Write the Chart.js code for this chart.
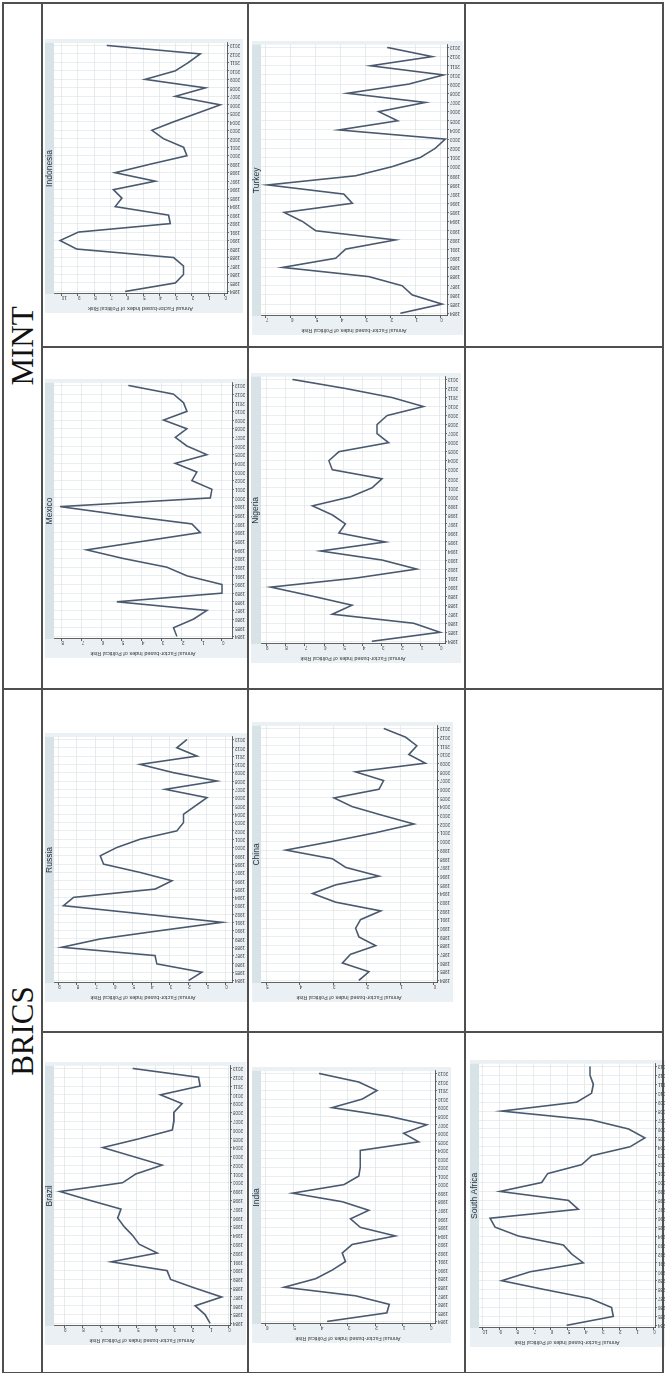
<!DOCTYPE html>
<html>
<head>
<meta charset="utf-8">
<script src="https://cdn.jsdelivr.net/npm/chart.js@4.4.1/dist/chart.umd.min.js"></script>
<style>
  html, body { margin: 0; padding: 0; background: #ffffff; }
  body { width: 665px; height: 1375px; overflow: hidden; position: relative; }
  /* the table is laid out landscape, then turned a quarter turn counter-clockwise */
  #page {
    position: absolute; left: 0; top: 0;
    width: 1375px; height: 665px;
    transform-origin: 0 0;
    transform: translateY(1375px) rotate(-90deg);
    background: #ffffff;
  }
  .rule { position: absolute; background: #4f4f4f; z-index: 2; }
  .group {
    position: absolute; top: 3px; height: 39px;
    display: flex; align-items: center; justify-content: center;
    font-family: "Liberation Serif", "Times New Roman", serif;
    font-size: 31px; color: #111111;
  }
  canvas { position: absolute; z-index: 1; }
</style>
</head>
<body>
<div id="page"></div>
<script>
// Years on the horizontal axis of every panel
const years = [1984, 1985, 1986, 1987, 1988, 1989, 1990, 1991, 1992, 1993,
               1994, 1995, 1996, 1997, 1998, 1999, 2000, 2001, 2002, 2003,
               2004, 2005, 2006, 2007, 2008, 2009, 2010, 2011, 2012, 2013];

// Annual factor-based index of political risk, one series per country
const brazil      = [0.99, 1.27, 1.81, 0.36, 1.81, 3.16, 3.35, 6.42, 3.89, 4.88, 5.24, 5.70, 6.06, 5.88, 7.59, 9.22, 5.79, 5.06, 3.62, 5.24, 6.87, 4.88, 3.07, 2.98, 2.98, 2.53, 3.71, 1.54, 1.63, 5.24];
const india       = [3.76, 1.58, 1.49, 2.73, 5.33, 4.18, 3.58, 3.09, 3.21, 2.85, 1.27, 2.55, 2.91, 2.24, 3.21, 5.03, 3.15, 2.61, 2.55, 2.55, 2.55, 0.42, 0.97, 0.12, 1.52, 3.58, 2.48, 1.94, 2.61, 4.06];
const southAfrica = [5.07, 2.34, 2.44, 3.70, 6.34, 8.87, 7.21, 4.09, 4.78, 5.26, 7.89, 9.26, 9.55, 4.39, 4.97, 8.97, 6.53, 6.18, 4.19, 3.61, 1.36, 0.49, 1.46, 3.61, 8.87, 4.48, 3.61, 3.51, 3.70, 3.70];
const russia      = [1.98, 1.26, 3.69, 3.78, 8.81, 6.74, 3.51, 0.18, 4.41, 8.72, 8.18, 3.78, 2.88, 4.59, 6.56, 6.74, 5.85, 4.59, 2.61, 2.25, 2.25, 1.62, 0.99, 3.24, 0.45, 2.79, 4.59, 1.53, 2.61, 2.07];
const china       = [2.23, 1.93, 2.72, 2.48, 1.73, 2.23, 2.33, 2.18, 1.58, 2.92, 3.61, 2.92, 1.63, 2.62, 3.02, 4.41, 3.02, 1.73, 0.59, 1.53, 2.43, 2.97, 1.63, 1.49, 2.33, 0.25, 0.74, 0.50, 0.84, 1.49];
const mexico      = [2.25, 2.42, 1.42, 0.75, 5.25, 0.00, 0.00, 1.75, 2.75, 4.92, 6.75, 3.92, 1.08, 1.50, 4.92, 8.08, 0.58, 0.50, 1.50, 1.25, 2.33, 0.75, 1.75, 2.33, 1.75, 2.92, 1.75, 1.92, 2.42, 4.67];
const nigeria     = [3.52, 0.00, 1.37, 5.57, 4.55, 6.60, 8.75, 4.37, 1.20, 3.00, 6.17, 2.83, 5.23, 4.89, 5.57, 6.60, 4.63, 3.52, 3.00, 5.57, 5.75, 5.23, 2.66, 3.26, 3.26, 2.74, 0.86, 2.49, 4.89, 7.63];
const indonesia   = [6.10, 3.02, 2.51, 2.51, 3.12, 9.08, 10.10, 8.97, 3.33, 3.43, 6.71, 6.30, 6.82, 4.25, 6.71, 4.56, 2.30, 2.51, 3.74, 4.46, 3.12, 1.68, 0.25, 3.02, 1.17, 4.87, 3.02, 2.20, 1.48, 7.23];
const turkey      = [1.60, -0.07, 1.13, 1.53, 2.87, 6.33, 4.20, 3.80, 1.80, 5.00, 5.53, 6.27, 3.53, 3.87, 6.93, 3.40, 1.93, 0.80, 0.20, -0.20, 4.07, 1.71, 2.47, 0.60, 3.73, 1.27, -0.13, 2.80, 0.33, 2.13];

const groupNames = ['BRICS', 'MINT'];
const yTitle = 'Annual Factor-based Index of Political Risk';

// Panel placement in the landscape table (px): u = across, v = down
const panels = [
  { name: 'Brazil',       series: brazil,      u0: 49,   u1: 311,  vb: 45,  v0: 54,  v1: 230, min: -0.10, max: 9.55 },
  { name: 'India',        series: india,       u0: 51,   u1: 306,  vb: 252, v0: 261, v1: 435, min: -0.18, max: 6.18 },
  { name: 'South Africa', series: southAfrica, u0: 47,   u1: 313,  vb: 470, v0: 479, v1: 655, min: -0.10, max: 10.2 },
  { name: 'Russia',       series: russia,      u0: 392,  u1: 640,  vb: 45,  v0: 54,  v1: 232, min: -0.36, max: 9.23 },
  { name: 'China',        series: china,       u0: 392,  u1: 651,  vb: 252, v0: 261, v1: 437, min: -0.10, max: 5.15 },
  { name: 'Mexico',       series: mexico,      u0: 736,  u1: 994,  vb: 45,  v0: 54,  v1: 232, min: -0.50, max: 8.38 },
  { name: 'Nigeria',      series: nigeria,     u0: 731,  u1: 1000, vb: 251, v0: 261, v1: 445, min: -0.26, max: 9.26 },
  { name: 'Indonesia',    series: indonesia,   u0: 1081, u1: 1334, vb: 45,  v0: 54,  v1: 227, min: -0.16, max: 10.47 },
  { name: 'Turkey',       series: turkey,      u0: 1059, u1: 1332, vb: 252, v0: 261, v1: 447, min: -0.27, max: 7.20 }
];

const page = document.getElementById('page');

// ---- table rules ----
function rule(left, top, width, height) {
  const d = document.createElement('div');
  d.className = 'rule';
  d.style.left = left + 'px'; d.style.top = top + 'px';
  d.style.width = width + 'px'; d.style.height = height + 'px';
  page.appendChild(d);
}
rule(2, 2, 1371, 1.5);      // outer top
rule(2, 662, 1371, 1.5);    // outer bottom
rule(1.5, 2, 1.5, 661.5);   // outer left
rule(1371, 2, 1.5, 661.5);  // outer right
rule(2, 41, 1371, 1.5);     // under the group headers
rule(2, 247, 1371, 1.5);    // between panel rows
rule(2, 464, 1371, 1.5);
rule(685, 2, 1.5, 661.5);   // BRICS | MINT
rule(342, 41, 1.5, 622);    // inside BRICS
rule(1027, 41, 1.5, 622);   // inside MINT

// ---- group headers ----
groupNames.forEach((g, i) => {
  const d = document.createElement('div');
  d.className = 'group';
  d.style.left = (i === 0 ? 3 : 687) + 'px';
  d.style.width = (i === 0 ? 682 : 684) + 'px';
  d.textContent = g;
  page.appendChild(d);
});

// ---- panels ----
const FONT = '"Liberation Sans", Arial, sans-serif';
const LINE = '#4a596f';
const GRID = '#e0e6e9';
const AXIS = '#3a3a3a';
const REGION = '#eaf0f3';
const STRIP = '#d8e3e8';
const Y_AXIS_W = 19;
const X_AXIS_H = 16;

const regionPlugin = {
  id: 'region',
  beforeDraw(chart) {
    const { ctx, chartArea: a, width, height } = chart;
    ctx.save();
    ctx.fillStyle = REGION;
    ctx.fillRect(0, 0, width, height);
    ctx.fillStyle = STRIP;
    ctx.fillRect(a.left, 0, a.right - a.left, a.top);
    ctx.fillStyle = '#ffffff';
    ctx.fillRect(a.left, a.top, a.right - a.left, a.bottom - a.top);
    ctx.restore();
  }
};

panels.forEach(p => {
  const cv = document.createElement('canvas');
  const w = Math.round(p.u1 - p.u0 + Y_AXIS_W + 2);
  const h = Math.round(p.v1 - p.vb + X_AXIS_H);
  cv.width = w; cv.height = h;
  cv.style.width = w + 'px'; cv.style.height = h + 'px';
  cv.style.left = Math.round(p.u0 - Y_AXIS_W) + 'px';
  cv.style.top = p.vb + 'px';
  page.appendChild(cv);

  const stripH = p.v0 - p.vb;
  const titleSize = 8.5;
  new Chart(cv, {
    type: 'line',
    data: {
      datasets: [{
        data: years.map((y, i) => ({ x: y, y: p.series[i] })),
        borderColor: LINE,
        borderWidth: 1.6,
        pointRadius: 0,
        tension: 0,
        fill: false
      }]
    },
    options: {
      responsive: false,
      animation: false,
      devicePixelRatio: 1,
      layout: { padding: { left: 0, right: 2, top: 0, bottom: 0 } },
      plugins: {
        legend: { display: false },
        tooltip: { enabled: false },
        title: {
          display: true,
          text: p.name,
          fullSize: false,
          color: '#1f2b3a',
          font: { family: FONT, size: titleSize, lineHeight: 1, weight: 'normal' },
          padding: { top: (stripH - titleSize) / 2, bottom: (stripH - titleSize) / 2 }
        }
      },
      scales: {
        x: {
          type: 'linear',
          min: years[0] - 0.3,
          max: years[years.length - 1] + 0.3,
          afterFit(s) { s.height = X_AXIS_H; },
          ticks: {
            stepSize: 1, includeBounds: false, autoSkip: false,
            minRotation: 90, maxRotation: 90, padding: 1,
            color: AXIS, font: { family: FONT, size: 4.5 },
            callback: v => String(v)
          },
          grid: { color: GRID, lineWidth: 0.7, tickLength: 2, tickColor: AXIS },
          border: { display: true, color: AXIS, width: 0.8 }
        },
        y: {
          min: p.min,
          max: p.max,
          afterFit(s) { s.width = Y_AXIS_W; },
          ticks: {
            stepSize: 1, includeBounds: false, autoSkip: false,
            minRotation: 90, maxRotation: 90, padding: 1,
            color: AXIS, font: { family: FONT, size: 4.5 }
          },
          grid: { color: GRID, lineWidth: 0.8, tickLength: 2, tickColor: AXIS },
          border: { display: true, color: AXIS, width: 0.8 },
          title: {
            display: true, text: yTitle, color: AXIS, padding: 1,
            font: { family: FONT, size: 5.5 }
          }
        }
      }
    },
    plugins: [regionPlugin]
  });
});
</script>
</body>
</html>
